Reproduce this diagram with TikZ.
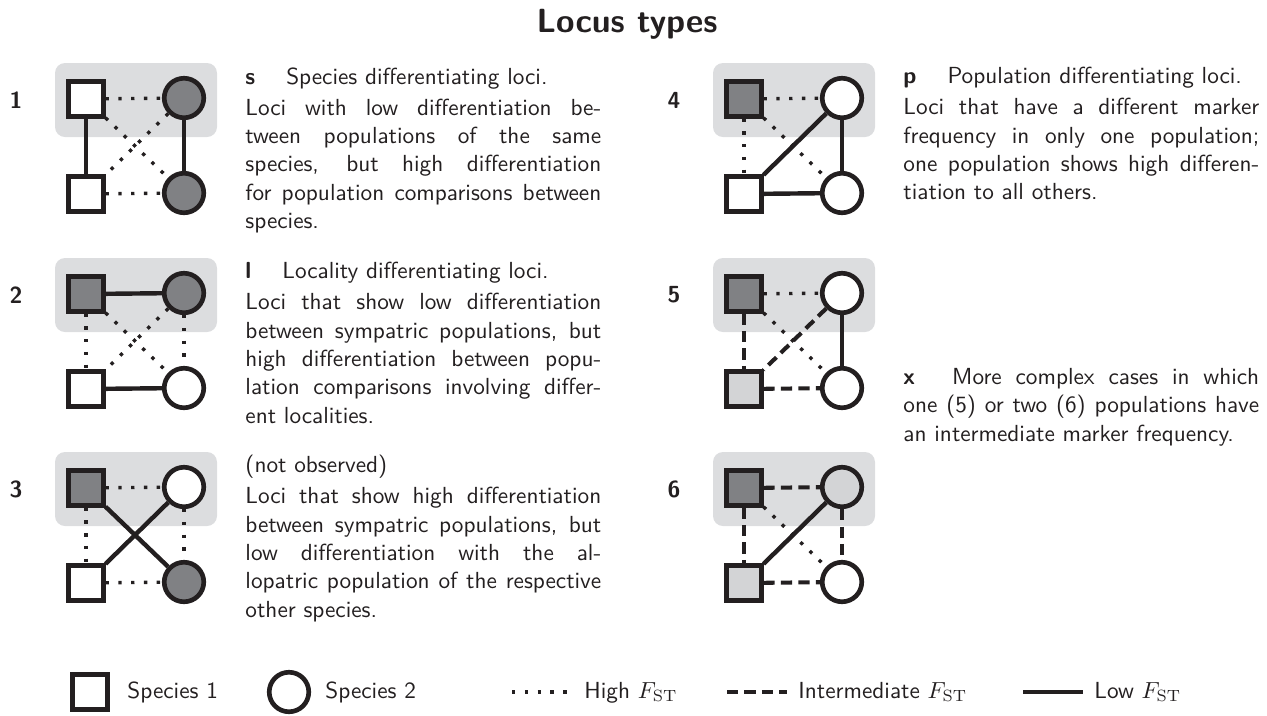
\documentclass[tikz,border=0pt]{standalone}
\usepackage{tikz}
\usetikzlibrary{positioning}
\renewcommand{\familydefault}{\sfdefault}
\definecolor{ink}{RGB}{35,31,32}
\definecolor{boxgray}{RGB}{220,221,223}
\definecolor{popdark}{RGB}{128,129,132}
\definecolor{poplight}{RGB}{211,212,214}
\tolerance=9999
\hyphenpenalty=10000
\newcommand{\fst}{$F_{\mathrm{ST}}$}
\tikzset{
  pop/.style={draw=ink, line width=2pt, inner sep=0pt},
  sp1/.style={pop, rectangle, minimum size=14.8pt},
  sp2/.style={pop, circle, minimum size=17pt},
  fsthigh/.style={draw=ink, line width=1.45pt, dash pattern=on 1.45pt off 4.05pt},
  fstmid/.style={draw=ink, line width=1.75pt, dash pattern=on 4.8pt off 2.7pt},
  fstlow/.style={draw=ink, line width=1.9pt},
  desc/.style={anchor=north west, inner sep=0pt, text width=153pt, align=justify,
    font=\fontsize{10}{12.2}\selectfont, text=ink},
  rowlabel/.style={font=\bfseries, text=ink, inner sep=0pt},
  legtext/.style={anchor=base west, inner sep=0pt, text=ink},
}
\begin{document}
\begin{tikzpicture}[x=0.43pt, y=-0.43pt]
  \useasboundingbox (0,0) rectangle (1267,715);
  \node[font=\Large\bfseries, text=ink, anchor=base] (title) at (627,32) {Locus types};

  % sympatric pairs
  \foreach \x/\y in {0/0, 0/195, 0/389, 658/0, 658/195, 658/389}{
    \fill[boxgray, rounded corners=4.3pt] (\x+55,\y+63) rectangle (\x+217,\y+137);
  }

  % populations (a, b top; c, d bottom)
  \foreach \n/\x/\y/\fa/\fb/\fc/\fd in {1/0/0/white/popdark/white/popdark,
      2/0/195/popdark/popdark/white/white, 3/0/389/popdark/white/white/popdark,
      4/658/0/popdark/white/white/white, 5/658/195/popdark/white/poplight/white,
      6/658/389/popdark/poplight/poplight/white}{
    \node[rowlabel] (n\n) at (\x+16,\y+100) {\n};
    \node[sp1, fill=\fa] (a\n) at (\x+86,\y+99) {};
    \node[sp2, fill=\fb] (b\n) at (\x+184,\y+98) {};
    \node[sp1, fill=\fc] (c\n) at (\x+86,\y+194) {};
    \node[sp2, fill=\fd] (d\n) at (\x+184,\y+193) {};
  }

  % F_ST between populations
  \foreach \n/\ab/\cd/\ac/\bd/\ad/\bc in {1/fsthigh/fsthigh/fstlow/fstlow/fsthigh/fsthigh,
      2/fstlow/fstlow/fsthigh/fsthigh/fsthigh/fsthigh,
      3/fsthigh/fsthigh/fsthigh/fsthigh/fstlow/fstlow,
      4/fsthigh/fstlow/fsthigh/fstlow/fsthigh/fstlow,
      5/fsthigh/fstmid/fstmid/fstlow/fsthigh/fstmid,
      6/fstmid/fstmid/fstmid/fstmid/fsthigh/fstlow}{
    \draw[\ab] (a\n) -- (b\n);
    \draw[\cd] (c\n) -- (d\n);
    \draw[\ac] (a\n) -- (c\n);
    \draw[\bd] (b\n) -- (d\n);
    \draw[\ad] (a\n) -- (d\n);
    \draw[\bc] (b\n) -- (c\n);
  }

  % descriptions
  \node[desc] (t1) at (245,67) {\textbf{s} \quad Species differentiating loci.\par\vspace{1.1pt}
    Loci with low differentiation be-\linebreak tween populations of the same\linebreak
    species, but high differentiation\linebreak for population comparisons between\linebreak species.};
  \node[desc] (t2) at (245,262) {\textbf{l} \quad Locality differentiating loci.\par\vspace{1.1pt}
    Loci that show low differentiation\linebreak between sympatric populations, but\linebreak
    high differentiation between popu-\linebreak lation comparisons involving differ-\linebreak ent localities.};
  \node[desc] (t3) at (245,455) {(not observed)\par\vspace{1.1pt}
    Loci that show high differentiation\linebreak between sympatric populations, but\linebreak
    low differentiation with the al-\linebreak lopatric population of the respective\linebreak other species.};
  \node[desc] (t4) at (903,67) {\textbf{p} \quad Population differentiating loci.\par\vspace{1.1pt}
    Loci that have a different marker\linebreak frequency in only one population;\linebreak
    one population shows high differen-\linebreak tiation to all others.};
  \node[desc] (t5) at (903,368) {\textbf{x} \quad More complex cases in which\linebreak
    one (5) or two (6) populations have\linebreak an intermediate marker frequency.};

  % legend
  \node[sp1, fill=white] (leg1) at (90,692) {};
  \node[legtext] (leg1t) at (127,698) {Species 1};
  \node[sp2, fill=white] (leg2) at (289,692) {};
  \node[legtext] (leg2t) at (325,698) {Species 2};
  \foreach \s/\xa/\xb/\lab in {fsthigh/512/573/High, fstmid/727/787/Intermediate, fstlow/1023/1083/Low}{
    \coordinate (\s A) at (\xa,692);
    \coordinate (\s B) at (\xb,692);
    \draw[\s] (\s A) -- (\s B);
    \node[legtext] (\s T) at (\xb+11,698) {\lab\ \fst};
  }
\end{tikzpicture}
\end{document}
